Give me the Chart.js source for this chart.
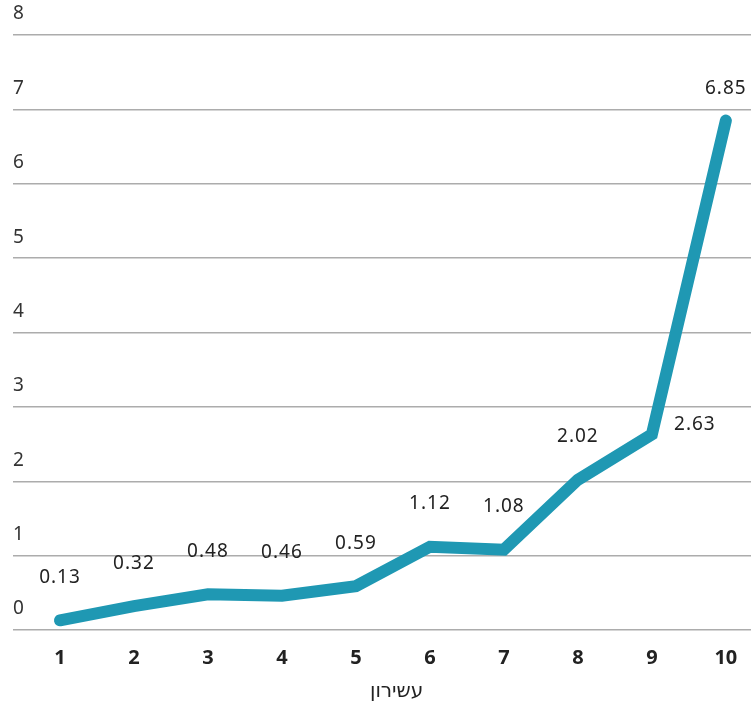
<!DOCTYPE html>
<html>
<head>
<meta charset="utf-8">
<script src="https://cdn.jsdelivr.net/npm/chart.js@4.4.0/dist/chart.umd.min.js"></script>
<style>
html, body { margin: 0; padding: 0; background: #fff; overflow: hidden; }
</style>
</head>
<body>
<canvas id="myChart" width="751" height="704"></canvas>
<script>
// data
var deciles = ['1', '2', '3', '4', '5', '6', '7', '8', '9', '10'];
var decileNums = [1, 2, 3, 4, 5, 6, 7, 8, 9, 10];
var wealthValues = [0.13, 0.32, 0.48, 0.46, 0.59, 1.12, 1.08, 2.02, 2.63, 6.85];
var yTicks = [0, 1, 2, 3, 4, 5, 6, 7, 8];
var axisTitle = 'עשירון';

var points = decileNums.map(function (d, i) {
    return { x: d, y: wealthValues[i] };
});

var valueLabelPlugin = {
    id: 'valueLabels',
    afterDatasetsDraw: function (chart) {
        var ctx = chart.ctx;
        var meta = chart.getDatasetMeta(0);
        ctx.save();
        ctx.fillStyle = '#222';
        ctx.font = '19px "Noto Sans"';
        ctx.letterSpacing = '1px';
        ctx.textAlign = 'center';
        ctx.textBaseline = 'middle';
        meta.data.forEach(function (el, i) {
            var x = el.x, y = el.y - 43;
            // the 9th decile label sits to the right of its point
            if (i === 8) { x = el.x + 43; y = el.y - 10; }
            if (i === meta.data.length - 1) { y = el.y - 32; }
            ctx.fillText(wealthValues[i].toFixed(2), x, y);
        });
        ctx.restore();
    },
    afterDraw: function (chart) {
        var ctx = chart.ctx;
        var xs = chart.scales.x;
        ctx.save();
        ctx.fillStyle = '#222';
        ctx.font = '20px "DejaVu Sans"';
        ctx.textAlign = 'center';
        ctx.textBaseline = 'middle';
        ctx.fillText(axisTitle, xs.getPixelForValue(5.55), 692);
        ctx.restore();
    }
};

var ctx = document.getElementById('myChart').getContext('2d');
var myChart = new Chart(ctx, {
    type: 'line',
    data: {
        datasets: [{
            data: points,
            borderColor: '#1f98b3',
            borderWidth: 12,
            borderCapStyle: 'round',
            borderJoinStyle: 'miter',
            pointRadius: 0,
            tension: 0,
            clip: false
        }]
    },
    options: {
        responsive: false,
        animation: false,
        layout: { padding: { left: 13, right: 0, top: 35, bottom: 26 } },
        plugins: {
            legend: { display: false },
            tooltip: { enabled: false }
        },
        scales: {
            x: {
                type: 'linear',
                min: 0.365,
                max: 10.34,
                afterBuildTicks: function (scale) {
                    scale.ticks = decileNums.map(function (v) { return { value: v }; });
                },
                grid: { display: false },
                border: { display: false },
                ticks: {
                    padding: 8,
                    color: '#222',
                    font: { family: 'Noto Sans', size: 20, weight: 'bold' },
                    callback: function (v, i) { return deciles[i]; }
                }
            },
            y: {
                min: 0,
                max: 8,
                afterBuildTicks: function (scale) {
                    scale.ticks = yTicks.map(function (v) { return { value: v }; });
                },
                grid: { color: '#acacac', lineWidth: 1.5, drawTicks: false },
                border: { display: false },
                ticks: {
                    mirror: true,
                    padding: 0,
                    labelOffset: -21,
                    color: '#333',
                    font: { family: 'Noto Sans', size: 19 }
                }
            }
        }
    },
    plugins: [valueLabelPlugin]
});
</script>
</body>
</html>
